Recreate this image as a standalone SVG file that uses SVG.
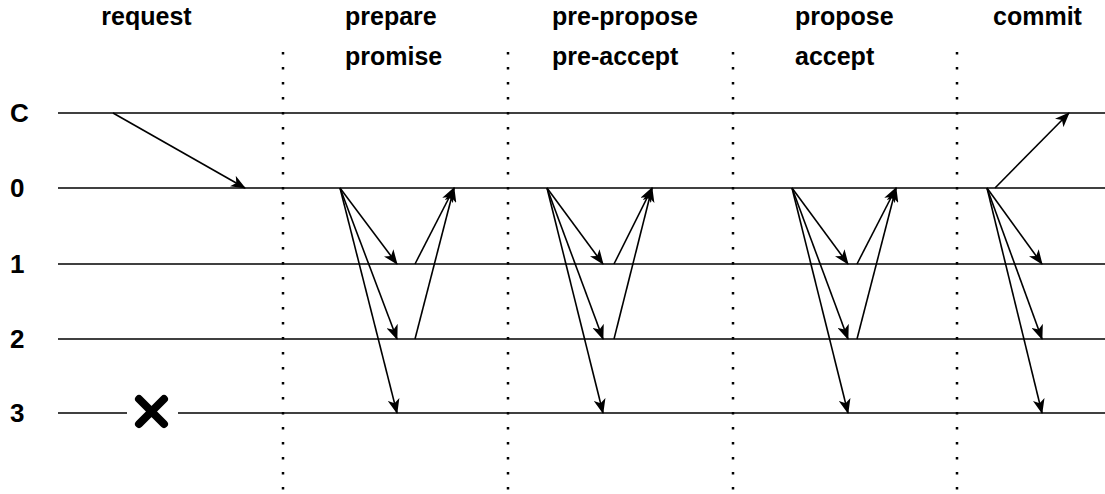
<svg xmlns="http://www.w3.org/2000/svg" width="1105" height="494" viewBox="0 0 1105 494">
<style>
.lbl{font-family:"Liberation Sans",Arial,sans-serif;font-weight:bold;font-size:25px;fill:#000}
.row{font-family:"Liberation Sans",Arial,sans-serif;font-weight:bold;font-size:26px;fill:#000}
.ln{stroke:#000;stroke-width:1.5;fill:none}
.dot{stroke:#000;stroke-width:2.5;stroke-dasharray:2.5 12.5;fill:none}
.ar{stroke:#000;stroke-width:1.6;fill:none;marker-end:url(#ah)}
</style>
<defs>
<marker id="ah" viewBox="0 0 15 12" refX="14" refY="6" markerWidth="15" markerHeight="12" markerUnits="userSpaceOnUse" orient="auto">
<path d="M0,0 L15,6 L0,12 L4,6 Z" fill="#000"/>
</marker>
</defs>
<rect width="1105" height="494" fill="#fff"/>
<g id="headers">
<text class="lbl" x="146.5" y="25" text-anchor="middle">request</text>
<text class="lbl" x="345" y="25">prepare</text>
<text class="lbl" x="345" y="65">promise</text>
<text class="lbl" x="552" y="25">pre-propose</text>
<text class="lbl" x="552" y="65">pre-accept</text>
<text class="lbl" x="795" y="25">propose</text>
<text class="lbl" x="795" y="65">accept</text>
<text class="lbl" x="993" y="25">commit</text>
</g>
<g id="row-labels">
<text class="row" x="10" y="122">C</text>
<text class="row" x="10" y="197">0</text>
<text class="row" x="10" y="273">1</text>
<text class="row" x="10" y="348">2</text>
<text class="row" x="10" y="422">3</text>
</g>
<g id="separators">
<line class="dot" x1="283" y1="52" x2="283" y2="494"/>
<line class="dot" x1="508" y1="52" x2="508" y2="494"/>
<line class="dot" x1="733" y1="52" x2="733" y2="494"/>
<line class="dot" x1="957" y1="52" x2="957" y2="494"/>
</g>
<g id="timelines">
<line class="ln" x1="58" y1="113" x2="1105" y2="113"/>
<line class="ln" x1="58" y1="188" x2="1105" y2="188"/>
<line class="ln" x1="58" y1="264" x2="1105" y2="264"/>
<line class="ln" x1="58" y1="339" x2="1105" y2="339"/>
<line class="ln" x1="58" y1="413" x2="127" y2="413"/>
<line class="ln" x1="178" y1="413" x2="1105" y2="413"/>
</g>
<g id="failure">
<path d="M139,399 L164,424 M164,399 L139,424" stroke="#000" stroke-width="8" stroke-linecap="round"/>
</g>
<g id="connectors">
<line class="ar" x1="113" y1="113" x2="245" y2="188"/>
<line class="ar" x1="340" y1="188" x2="397" y2="264"/>
<line class="ar" x1="340" y1="188" x2="397" y2="339"/>
<line class="ar" x1="340" y1="188" x2="397" y2="413"/>
<line class="ar" x1="415" y1="264" x2="454" y2="188"/>
<line class="ar" x1="415" y1="339" x2="454" y2="188"/>
<line class="ar" x1="547" y1="188" x2="603" y2="264"/>
<line class="ar" x1="547" y1="188" x2="603" y2="339"/>
<line class="ar" x1="547" y1="188" x2="603" y2="413"/>
<line class="ar" x1="614" y1="264" x2="652" y2="188"/>
<line class="ar" x1="614" y1="339" x2="652" y2="188"/>
<line class="ar" x1="792" y1="188" x2="848" y2="264"/>
<line class="ar" x1="792" y1="188" x2="848" y2="339"/>
<line class="ar" x1="792" y1="188" x2="848" y2="413"/>
<line class="ar" x1="857" y1="264" x2="896" y2="188"/>
<line class="ar" x1="857" y1="339" x2="896" y2="188"/>
<line class="ar" x1="995" y1="188" x2="1069" y2="113"/>
<line class="ar" x1="987" y1="188" x2="1042" y2="264"/>
<line class="ar" x1="987" y1="188" x2="1042" y2="339"/>
<line class="ar" x1="987" y1="188" x2="1042" y2="413"/>
</g>
</svg>
